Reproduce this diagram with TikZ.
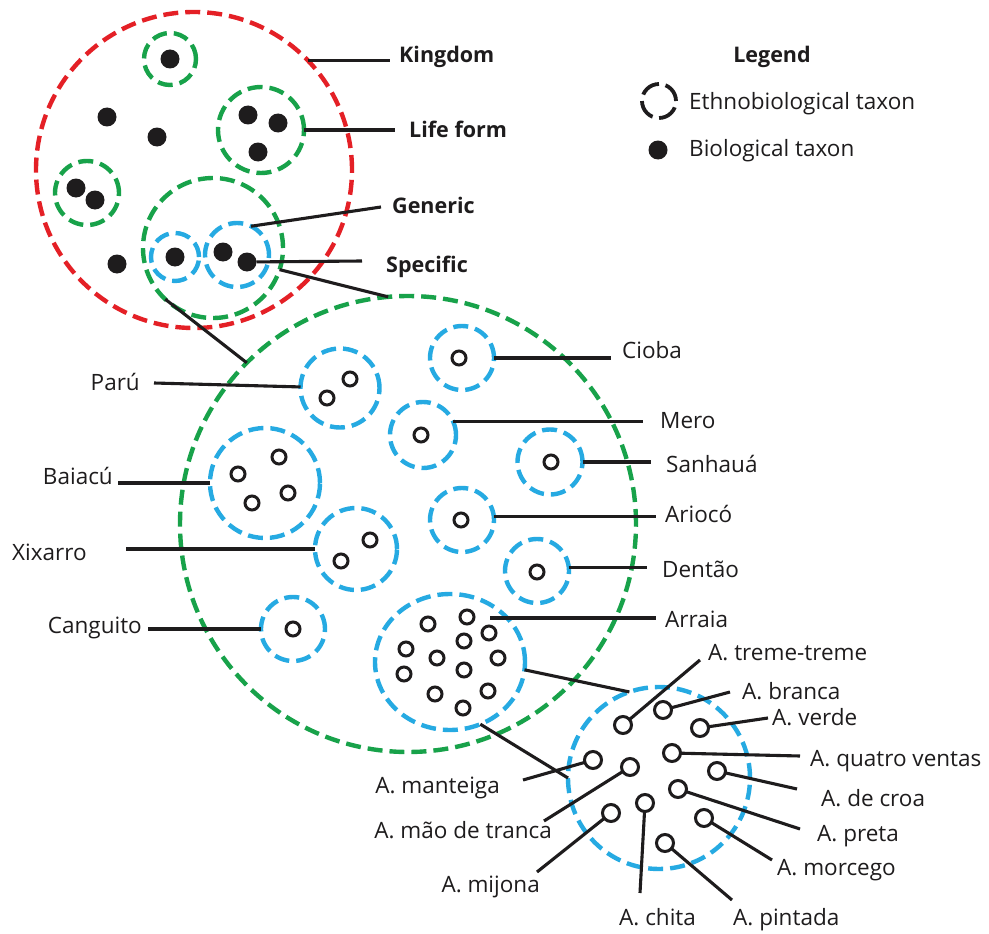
\documentclass[tikz,border=0pt]{standalone}
\usepackage{fontspec}
\setmainfont{Open Sans}
\usetikzlibrary{shapes.geometric}
\definecolor{cred}{RGB}{228,32,38}
\definecolor{cgreen}{RGB}{24,162,74}
\definecolor{cblue}{RGB}{38,170,226}
\definecolor{cblack}{RGB}{30,28,29}
\tikzset{
  dashc/.style={circle, inner sep=0pt, outer sep=0pt, line width=4.4pt, dash pattern=on 15pt off 7pt},
  redc/.style={dashc, draw=cred},
  grnc/.style={dashc, draw=cgreen},
  bluc/.style={dashc, draw=cblue},
  bdot/.style={circle, fill=cblack, inner sep=0pt, outer sep=0pt, minimum size=19pt},
  ring/.style={circle, draw=cblack, line width=3pt, inner sep=0pt, outer sep=0pt, minimum size=14pt},
  bigring/.style={ring, minimum size=17pt},
  conn/.style={draw=cblack, line width=3.1pt},
  lab/.style={inner sep=0pt, font=\fontsize{22.5}{27}\selectfont, text=cblack},
  blab/.style={inner sep=0pt, font=\fontsize{21.5}{26}\selectfont\bfseries, text=cblack}
}
\begin{document}
\begin{tikzpicture}[x=1pt,y=-1pt]
\useasboundingbox (0,0) rectangle (989,934);
\fill[white] (0,0) rectangle (989,934);

% ---------- Kingdom ----------
\node[redc, minimum size=316pt] (kingdom) at (194,170) {};
\node[grnc, minimum size=52pt] (gA) at (170,59) {};
\node[bdot] (dA) at (170,59) {};
\node[grnc, minimum size=86pt] (lifeform) at (261,130) {};
\node[bdot] (dL1) at (248,115) {};
\node[bdot] (dL2) at (278,123) {};
\node[bdot] (dL3) at (258,152) {};
\node[grnc, minimum size=64pt] (gC) at (87,193) {};
\node[bdot] (dC1) at (76,188) {};
\node[bdot] (dC2) at (95,200) {};
\node[bdot] (dX1) at (107,117) {};
\node[bdot] (dX2) at (157,137) {};
\node[bdot] (dX3) at (117,264) {};
\node[grnc, minimum size=140pt] (generic) at (213,248) {};
\node[bluc, minimum size=48pt] (sp1) at (175,257) {};
\node[bdot] (d1) at (175,257) {};
\node[bluc, minimum size=64pt] (sp2) at (237,255) {};
\node[bdot] (d2a) at (223,252) {};
\node[bdot] (d2b) at (247,262) {};

\coordinate (kE) at (390,0);
\coordinate (lfE) at (395,0);
\coordinate (genE) at (381,207);
\coordinate (specE) at (362,261);
\draw[conn] (kingdom.44.5) -- (kingdom.44.5 -| kE);
\draw[conn] (lifeform.east) -- (lifeform.east -| lfE);
\draw[conn] (sp2.64) -- (genE);
\draw[conn] (d2b) -- (specE);
\node[blab, anchor=base west] (kingdomL) at (399,63) {Kingdom};
\node[blab, anchor=base west] (lifeformL) at (409,137) {Life form};
\node[blab, anchor=base west] (genericL) at (392,213) {Generic};
\node[blab, anchor=base west] (specificL) at (386,272) {Specific};

% ---------- Legend ----------
\node[blab, anchor=base] (legendL) at (772,63) {Legend};
\node[circle, draw=cblack, line width=3.8pt, dash pattern=on 20pt off 6.7pt, minimum size=34pt, inner sep=0pt] (legC) at (659,101) {};
\node[bdot] (legD) at (658,150) {};
\node[lab, anchor=base west] (legCL) at (689,110) {Ethnobiological taxon};
\node[lab, anchor=base west] (legDL) at (689,157) {Biological taxon};

% ---------- Big generic ----------
\node[grnc, minimum size=456pt] (big) at (408,524) {};
\draw[conn] (generic.-18) -- (big.95);
\draw[conn] (generic.-133) -- (big.135.5);

\node[bluc, minimum size=79pt] (paru) at (340,388) {};
\node[ring] (p1) at (350,379) {};
\node[ring] (p2) at (327,398) {};
\node[bluc, minimum size=110pt] (baiacu) at (265,483) {};
\node[ring] (b1) at (279,457) {};
\node[ring] (b2) at (238,474) {};
\node[ring] (b3) at (288,493) {};
\node[ring] (b4) at (252,503) {};
\node[bluc, minimum size=82pt] (xix) at (356,549) {};
\node[ring] (x1) at (370,540) {};
\node[ring] (x2) at (341,561) {};
\node[bluc, minimum size=64pt] (cang) at (293,629) {};
\node[ring] (c1) at (293,629) {};
\node[bluc, minimum size=64pt] (cioba) at (462,358) {};
\node[ring] (ci1) at (459,358) {};
\node[bluc, minimum size=66pt] (mero) at (423,435) {};
\node[ring] (m1) at (421,435) {};
\node[bluc, minimum size=64pt] (ario) at (462,520) {};
\node[ring] (a1) at (461,520) {};
\node[bluc, minimum size=65pt] (san) at (550,462) {};
\node[ring] (s1) at (551,462) {};
\node[bluc, minimum size=64pt] (dent) at (537,571) {};
\node[ring] (de1) at (537,572) {};

\node[dashc, ellipse, draw=cblue, minimum width=150pt, minimum height=136pt] (arraia) at (450,662) {};
\foreach \p [count=\i] in {(428,624),(467,617),(489,633),(464,641),(406,649),(437,658),(498,658),(464,670),(404,674),(435,694),(488,691),(463,708)}
  \node[ring] (r\i) at \p {};

\coordinate (paruE) at (154,383);
\coordinate (baiE) at (118,0);
\coordinate (xixE) at (126,0);
\coordinate (cangE) at (148,0);
\coordinate (ciobaE) at (611,0);
\coordinate (meroE) at (643,0);
\coordinate (sanE) at (651,0);
\coordinate (arioE) at (656,0);
\coordinate (dentE) at (647,0);
\coordinate (arrS) at (490,618);
\coordinate (arrE) at (656,0);
\draw[conn] (paru) -- (paruE);
\draw[conn] (baiacu.west) -- (baiacu.west -| baiE);
\draw[conn] (xix.west) -- (xix.west -| xixE);
\draw[conn] (cang.west) -- (cang.west -| cangE);
\draw[conn] (cioba.east) -- (cioba.east -| ciobaE);
\draw[conn] (mero.25) -- (mero.25 -| meroE);
\draw[conn] (san.east) -- (san.east -| sanE);
\draw[conn] (ario.7) -- (ario.7 -| arioE);
\draw[conn] (dent.7) -- (dent.7 -| dentE);
\draw[conn] (arrS) -- (arrS -| arrE);

\node[lab, anchor=base east] (paruL) at (140,390) {Parú};
\node[lab, anchor=base east] (baiL) at (113,484) {Baiacú};
\node[lab, anchor=base west] (xixL) at (12,560) {Xixarro};
\node[lab, anchor=base east] (cangL) at (142,633) {Canguito};
\node[lab, anchor=base west] (ciobaL) at (622,358) {Cioba};
\node[lab, anchor=base west] (meroL) at (660,428) {Mero};
\node[lab, anchor=base west] (sanL) at (666,472) {Sanhauá};
\node[lab, anchor=base west] (arioL) at (665,522) {Ariocó};
\node[lab, anchor=base west] (dentL) at (662,577) {Dentão};
\node[lab, anchor=base west] (arrL) at (665,627) {Arraia};

% ---------- Arraia detail ----------
\node[bluc, minimum size=182pt] (det) at (659,778) {};
\draw[conn] (arraia.-6) -- (det.109.4);
\draw[conn] (arraia.-64.5) -- (det.180);

\node[bigring] (tt) at (623,725) {};
\node[bigring] (br) at (663,710) {};
\node[bigring] (ve) at (700,728) {};
\node[bigring] (qv) at (672,753) {};
\node[bigring] (mt) at (593,760) {};
\node[bigring] (md) at (630,767) {};
\node[bigring] (dc) at (717,771) {};
\node[bigring] (pr) at (678,789) {};
\node[bigring] (ch) at (645,803) {};
\node[bigring] (mj) at (611,813) {};
\node[bigring] (mo) at (704,818) {};
\node[bigring] (pi) at (665,843) {};

\coordinate (ttE) at (700,660);
\coordinate (brE) at (730,692);
\coordinate (veE) at (768,718);
\coordinate (qvE) at (800,756);
\coordinate (dcE) at (797,789);
\coordinate (prE) at (800,829);
\coordinate (moE) at (772,860);
\coordinate (piE) at (732,900);
\coordinate (chE) at (640,893);
\coordinate (mjE) at (537,872);
\coordinate (mdE) at (544,821);
\coordinate (mtE) at (523,780);
\draw[conn] (tt) -- (ttE);
\draw[conn] (br) -- (brE);
\draw[conn] (ve) -- (veE);
\draw[conn] (qv) -- (qvE);
\draw[conn] (dc) -- (dcE);
\draw[conn] (pr) -- (prE);
\draw[conn] (mo) -- (moE);
\draw[conn] (pi) -- (piE);
\draw[conn] (ch) -- (chE);
\draw[conn] (mj) -- (mjE);
\draw[conn] (md) -- (mdE);
\draw[conn] (mt) -- (mtE);

\node[lab, anchor=base west] (ttL) at (708,660) {A. treme-treme};
\node[lab, anchor=base west] (brL) at (742,699) {A. branca};
\node[lab, anchor=base west] (veL) at (772,725) {A. verde};
\node[lab, anchor=base west] (qvL) at (810,766) {A. quatro ventas};
\node[lab, anchor=base west] (dcL) at (821,806) {A. de croa};
\node[lab, anchor=base west] (prL) at (817,841) {A. preta};
\node[lab, anchor=base west] (moL) at (777,875) {A. morcego};
\node[lab, anchor=base west] (piL) at (733,925) {A. pintada};
\node[lab, anchor=base west] (chL) at (619,925) {A. chita};
\node[lab, anchor=base east] (mjL) at (540,892) {A. mijona};
\node[lab, anchor=base east] (mdL) at (552,838) {A. mão de tranca};
\node[lab, anchor=base east] (mtL) at (500,793) {A. manteiga};
\end{tikzpicture}
\end{document}
